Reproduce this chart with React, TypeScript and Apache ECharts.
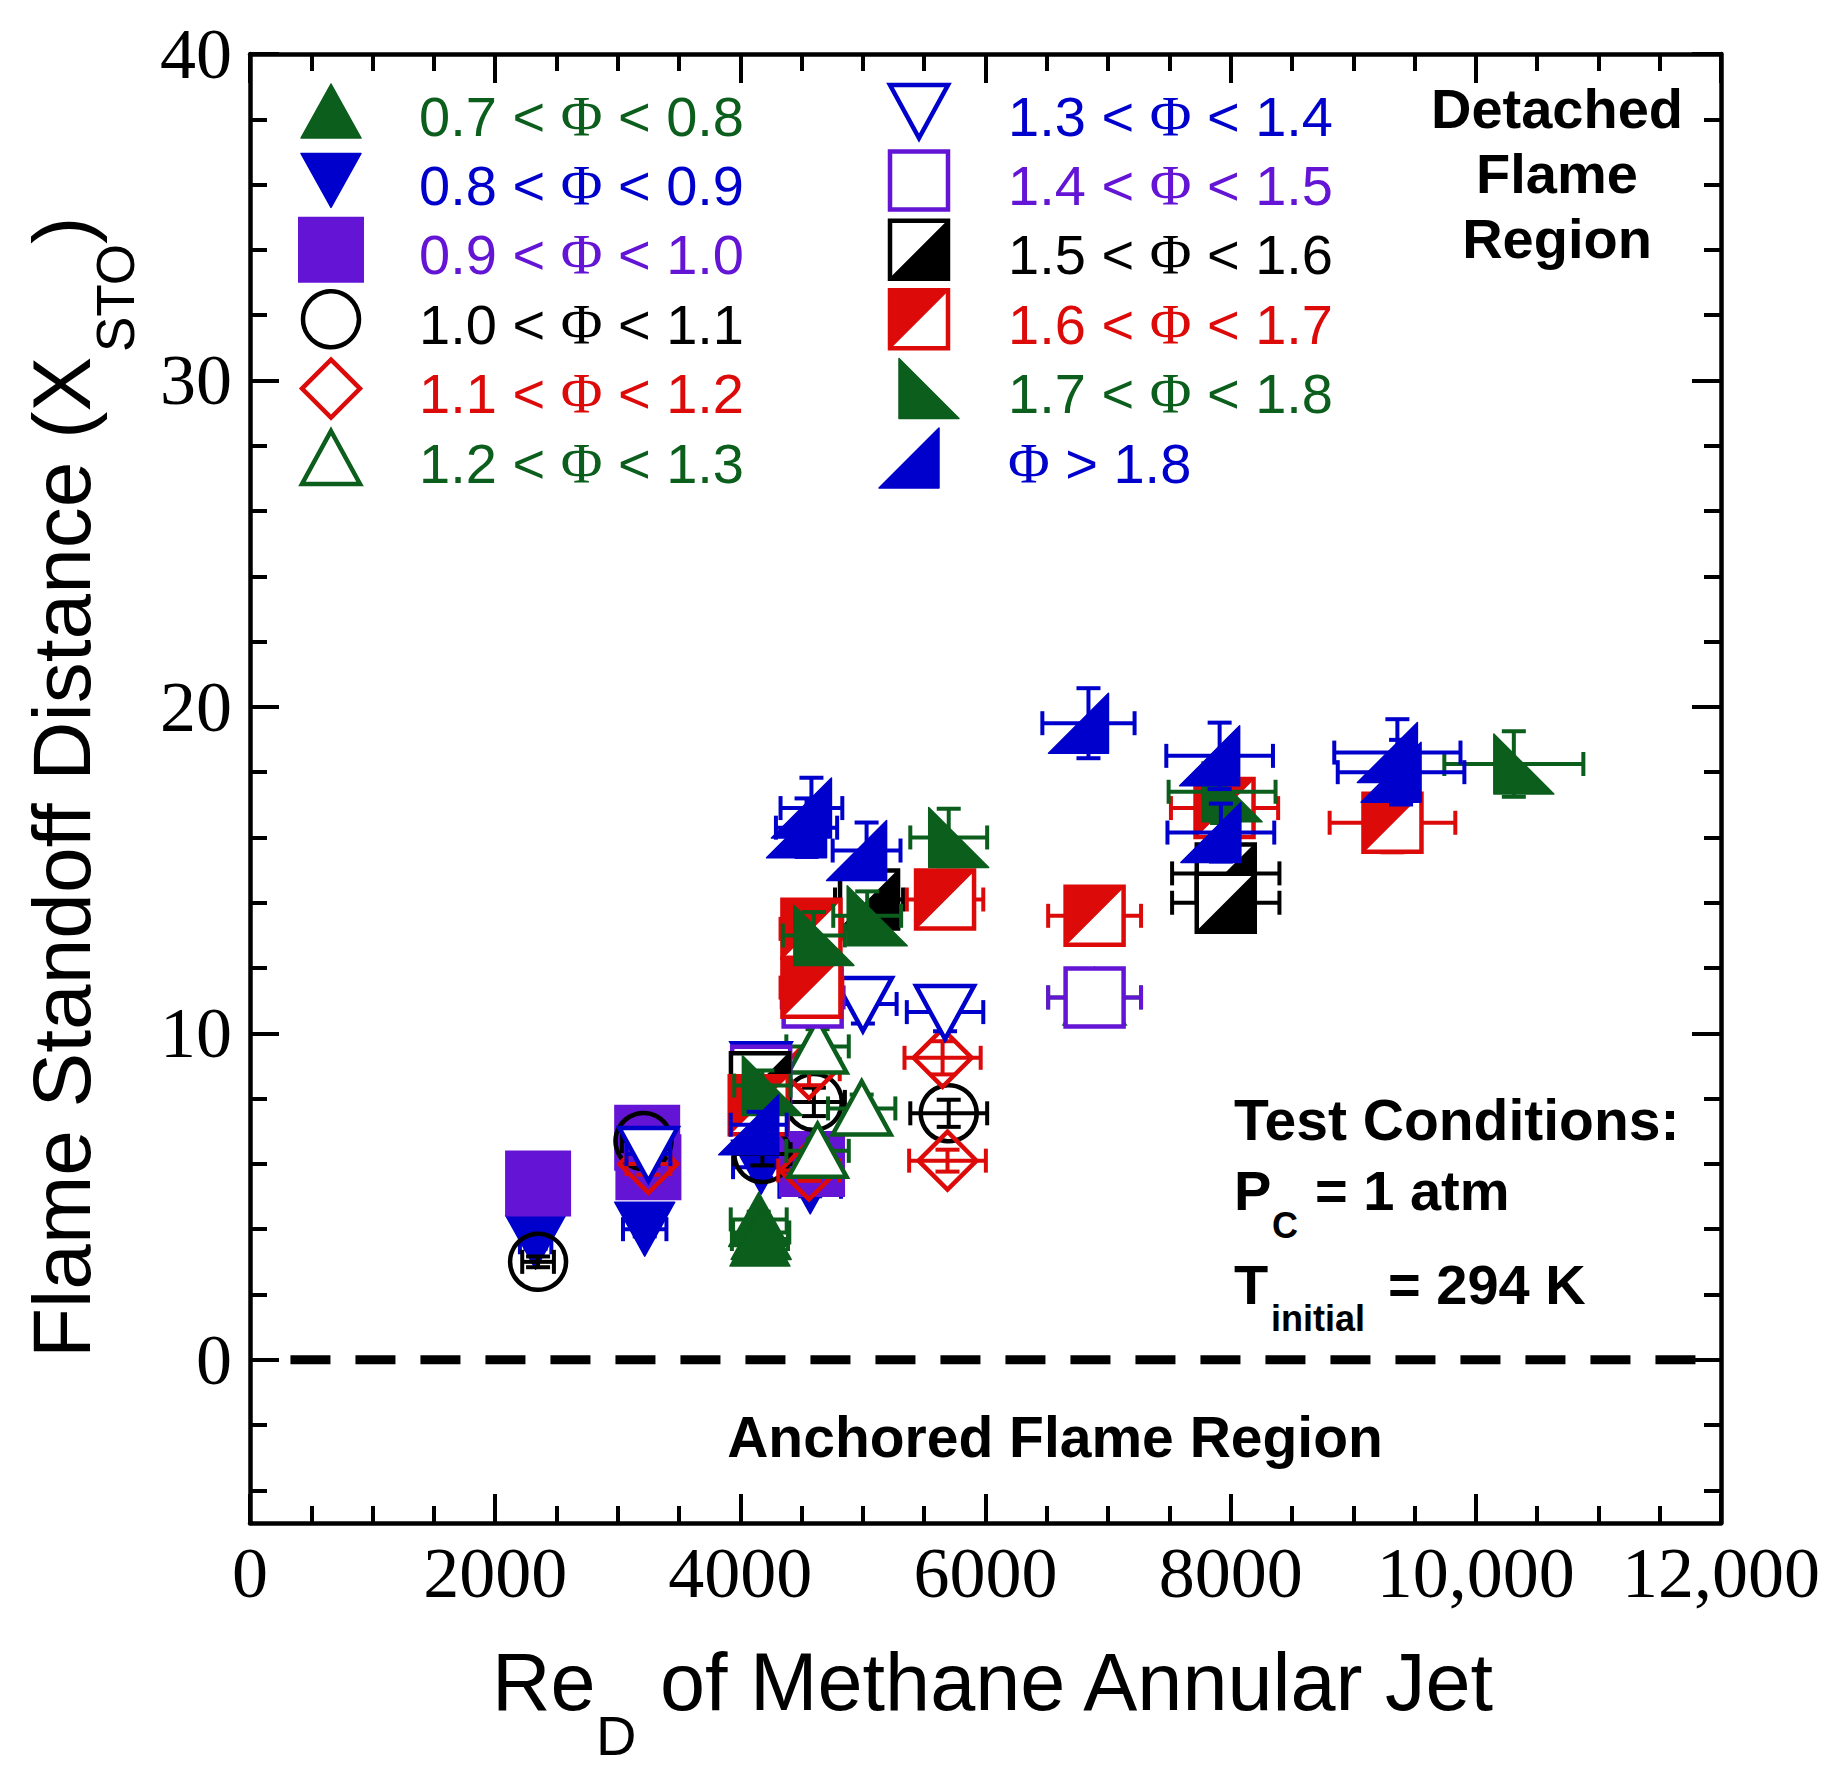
import React, { useEffect, useRef } from 'react';
import * as echarts from 'echarts';

// ---------- axis ticks ----------
const X_TICK_VALUES = [0, 2000, 4000, 6000, 8000, 10000, 12000];
const X_TICK_LABELS = ['0', '2000', '4000', '6000', '8000', '10,000', '12,000'];
const Y_MAJOR_TICKS = [0, 10, 20, 30, 40];
const Y_MINOR_TICKS = [-4, -2, 2, 4, 6, 8, 12, 14, 16, 18, 22, 24, 26, 28, 32, 34, 36, 38];

// ---------- legend labels ----------
const LEGEND_LABELS = [
  '0.7 < Φ < 0.8', '0.8 < Φ < 0.9', '0.9 < Φ < 1.0', '1.0 < Φ < 1.1', '1.1 < Φ < 1.2', '1.2 < Φ < 1.3',
  '1.3 < Φ < 1.4', '1.4 < Φ < 1.5', '1.5 < Φ < 1.6', '1.6 < Φ < 1.7', '1.7 < Φ < 1.8', 'Φ > 1.8',
];

// ---------- data: [Re_D, X_STO] ----------
const PHI_07_08 = [[4150, 4.3], [4170, 3.9], [4160, 3.7]];
const PHI_08_09 = [[2330, 3.6], [3220, 4.0], [4170, 5.9], [4570, 5.3]];
const PHI_09_10 = [[2350, 5.4], [3240, 6.8], [3250, 5.9], [4585, 6.0]];
const PHI_10_11 = [[2350, 3.0], [3210, 6.7], [4180, 6.3], [4600, 7.9], [5700, 7.55]];
const PHI_11_12 = [[3250, 6.0], [4560, 5.8], [4560, 8.9], [5650, 9.25], [5690, 6.1]];
const PHI_12_13 = [[4630, 9.6], [4990, 7.7], [4630, 6.4], [6890, 11.1]];
const PHI_13_14 = [[3250, 6.3], [4170, 8.9], [5000, 10.9], [5670, 10.65]];
const PHI_14_15 = [[4170, 8.7], [4590, 11.1], [6890, 11.1]];
const PHI_15_16 = [[4160, 8.5], [5050, 14.1], [7960, 14.9], [7960, 14.0]];
const PHI_16_17 = [[4150, 7.8], [4580, 13.2], [4580, 11.4], [5670, 14.1], [6890, 13.6], [7950, 16.9], [9320, 16.45]];
const PHI_17_18 = [[4180, 8.4], [4600, 13.0], [5035, 13.6], [5700, 16.0], [7930, 17.4], [10310, 18.25]];
const PHI_GT_18 = [[4150, 7.2], [4580, 16.9], [4540, 16.3], [5030, 15.6], [6840, 19.5], [7910, 18.5], [7920, 16.15], [9360, 18.6], [9390, 18.0]];

// relative measurement uncertainty shown by the error bars
const REL_ERR_X = 0.055;
const REL_ERR_Y = 0.055;

// dashed boundary line between detached and anchored regions
const BOUNDARY_LINE = [[330, 0], [11850, 0]];

// ---------- styles ----------
const GREEN = '#0B5E1C';
const BLUE = '#0000CC';
const PURPLE = '#6414D4';
const RED = '#DD0A0A';
const BLACK = '#000000';
const SANS = "'Liberation Sans', Arial, Helvetica, sans-serif";
const SERIF = "'Liberation Serif', 'Times New Roman', serif";

const GROUPS = [
  { data: PHI_07_08, color: GREEN, kind: 'triUp' },
  { data: PHI_08_09, color: BLUE, kind: 'triDown' },
  { data: PHI_09_10, color: PURPLE, kind: 'square' },
  { data: PHI_10_11, color: BLACK, kind: 'circleOpen' },
  { data: PHI_11_12, color: RED, kind: 'diamondOpen' },
  { data: PHI_12_13, color: GREEN, kind: 'triUpOpen' },
  { data: PHI_13_14, color: BLUE, kind: 'triDownOpen' },
  { data: PHI_14_15, color: PURPLE, kind: 'squareOpen' },
  { data: PHI_15_16, color: BLACK, kind: 'halfLR' },
  { data: PHI_16_17, color: RED, kind: 'halfUL' },
  { data: PHI_17_18, color: GREEN, kind: 'rtriL' },
  { data: PHI_GT_18, color: BLUE, kind: 'rtriR' },
];

function markerShapes(kind: string, color: string, cx: number, cy: number): any[] {
  const lw = 4.5;
  const filled = (pts: number[][]) => ({
    type: 'polygon', shape: { points: pts },
    style: { fill: color, stroke: color, lineWidth: 1.5, lineJoin: 'round' },
  });
  const open = (pts: number[][], fill: string) => ({
    type: 'polygon', shape: { points: pts },
    style: { fill, stroke: color, lineWidth: lw, lineJoin: 'miter' },
  });
  const frame = () => ({
    type: 'rect', shape: { x: cx - 29, y: cy - 29, width: 58, height: 58 },
    style: { fill: '#ffffff', stroke: color, lineWidth: lw },
  });
  switch (kind) {
    case 'triUp':
      return [filled([[cx, cy - 27], [cx + 30, cy + 27], [cx - 30, cy + 27]])];
    case 'triDown':
      return [filled([[cx - 30, cy - 27], [cx + 30, cy - 27], [cx, cy + 27]])];
    case 'square':
      return [{ type: 'rect', shape: { x: cx - 33, y: cy - 33, width: 66, height: 66 }, style: { fill: color } }];
    case 'circleOpen':
      return [{ type: 'circle', shape: { cx, cy, r: 28 }, style: { fill: 'none', stroke: color, lineWidth: lw } }];
    case 'diamondOpen':
      return [open([[cx, cy - 29], [cx + 29, cy], [cx, cy + 29], [cx - 29, cy]], 'none')];
    case 'triUpOpen':
      return [open([[cx, cy - 27], [cx + 29, cy + 26], [cx - 29, cy + 26]], '#ffffff')];
    case 'triDownOpen':
      return [open([[cx - 29, cy - 26], [cx + 29, cy - 26], [cx, cy + 27]], '#ffffff')];
    case 'squareOpen':
      return [frame()];
    case 'halfLR':
      return [frame(), filled([[cx + 29, cy - 29], [cx + 29, cy + 29], [cx - 29, cy + 29]])];
    case 'halfUL':
      return [frame(), filled([[cx - 29, cy - 29], [cx + 29, cy - 29], [cx - 29, cy + 29]])];
    case 'rtriL':
      return [filled([[cx - 20, cy - 30], [cx - 20, cy + 30], [cx + 40, cy + 30]])];
    case 'rtriR':
      return [filled([[cx + 20, cy - 30], [cx + 20, cy + 30], [cx - 40, cy + 30]])];
    default:
      return [];
  }
}

function makeRenderItem(kind: string, color: string) {
  return (params: any, api: any) => {
    const x = api.value(0);
    const y = api.value(1);
    const c = api.coord([x, y]);
    const cx = c[0];
    const cy = c[1];
    const xl = api.coord([x * (1 - REL_ERR_X), y])[0];
    const xr = api.coord([x * (1 + REL_ERR_X), y])[0];
    const yt = api.coord([x, y * (1 + REL_ERR_Y)])[1];
    const yb = api.coord([x, y * (1 - REL_ERR_Y)])[1];
    const ls = { stroke: color, lineWidth: 4 };
    const cap = 12;
    const ln = (x1: number, y1: number, x2: number, y2: number) => ({
      type: 'line', shape: { x1, y1, x2, y2 }, style: ls,
    });
    return {
      type: 'group',
      children: [
        ln(xl, cy, xr, cy),
        ln(xl, cy - cap, xl, cy + cap),
        ln(xr, cy - cap, xr, cy + cap),
        ln(cx, yt, cx, yb),
        ln(cx - cap, yt, cx + cap, yt),
        ln(cx - cap, yb, cx + cap, yb),
        ...markerShapes(kind, color, cx, cy),
      ],
    };
  };
}

function txt(text: string, x: number, y: number, size: number, opts: any = {}) {
  const align = opts.align || 'left';
  return {
    type: 'text',
    x, y,
    rotation: opts.rotation || 0,
    silent: true,
    style: {
      text,
      fill: opts.color || '#000',
      fontSize: size,
      fontFamily: opts.family || SANS,
      fontWeight: opts.weight || 'normal',
      align, textAlign: align,
      verticalAlign: 'middle', textVerticalAlign: 'middle',
    },
  };
}

function legendText(label: string, color: string, x: number, y: number) {
  const parts = label.split('Φ');
  let text = '';
  if (parts[0]) text += `{a|${parts[0]}}`;
  text += '{p|Φ}';
  if (parts[1]) text += `{a|${parts[1]}}`;
  return {
    type: 'text', x, y, silent: true,
    style: {
      text,
      fill: color,
      fontSize: 56,
      fontFamily: SANS,
      align: 'left', textAlign: 'left',
      verticalAlign: 'middle', textVerticalAlign: 'middle',
      rich: {
        a: { fontSize: 56, fontFamily: SANS, fill: color, color },
        p: { fontSize: 57, fontFamily: SERIF, fill: color, color },
      },
    },
  };
}

function buildGraphics() {
  const els: any[] = [];
  // legend
  const colMarkerX = [331, 919];
  const colTextX = [419, 1008];
  const rowY0 = 111;
  const rowStep = 69.4;
  GROUPS.forEach((g, i) => {
    const col = i < 6 ? 0 : 1;
    const row = i % 6;
    const cy = rowY0 + row * rowStep;
    els.push({ type: 'group', silent: true, children: markerShapes(g.kind, g.color, colMarkerX[col], cy) });
    els.push(legendText(LEGEND_LABELS[i], g.color, colTextX[col], cy + 5));
  });
  // region annotations
  els.push(txt('Detached', 1557, 108, 56, { align: 'center', weight: 'bold' }));
  els.push(txt('Flame', 1557, 173, 56, { align: 'center', weight: 'bold' }));
  els.push(txt('Region', 1557, 238, 56, { align: 'center', weight: 'bold' }));
  els.push(txt('Anchored Flame Region', 1055, 1437, 57, { align: 'center', weight: 'bold' }));
  // test conditions
  els.push(txt('Test Conditions:', 1234, 1120, 57, { weight: 'bold' }));
  els.push(txt('P', 1234, 1190, 56, { weight: 'bold' }));
  els.push(txt('C', 1272, 1225, 36, { weight: 'bold' }));
  els.push(txt('= 1 atm', 1315, 1190, 56, { weight: 'bold' }));
  els.push(txt('T', 1234, 1284, 56, { weight: 'bold' }));
  els.push(txt('initial', 1271, 1318, 36, { weight: 'bold' }));
  els.push(txt('= 294 K', 1388, 1284, 56, { weight: 'bold' }));
  // x axis title
  els.push(txt('Re', 492, 1682, 81));
  els.push(txt('D', 596, 1735, 56));
  els.push(txt('of Methane Annular Jet', 660, 1682, 81));
  // y axis title (rotated)
  els.push(txt('Flame Standoff Distance (X', 61, 1358, 82, { rotation: Math.PI / 2 }));
  els.push(txt('STO', 115, 352, 53, { rotation: Math.PI / 2 }));
  els.push(txt(')', 61, 244, 82, { rotation: Math.PI / 2 }));
  return els;
}

function buildOption(): any {
  const axisLine = { show: true, onZero: false, lineStyle: { color: '#000', width: 4.5 } };
  const tickStyle = { color: '#000', width: 4 };
  const xBase = {
    type: 'value', min: 0, max: 12000, interval: 2000,
    axisLine,
    axisTick: { show: true, inside: true, length: 29, lineStyle: tickStyle },
    minorTick: { show: true, splitNumber: 4, length: 17, lineStyle: tickStyle },
    splitLine: { show: false }, minorSplitLine: { show: false },
  };
  const yMajor = (position: string, showLabel: boolean) => ({
    type: 'value', min: -5, max: 40, position,
    axisLine,
    axisTick: { show: true, inside: true, length: 29, lineStyle: tickStyle, customValues: Y_MAJOR_TICKS },
    axisLabel: showLabel
      ? { show: true, customValues: Y_MAJOR_TICKS, margin: 18, fontFamily: SERIF, fontSize: 72, color: '#000' }
      : { show: false },
    splitLine: { show: false },
  });
  const yMinor = (position: string) => ({
    type: 'value', min: -5, max: 40, position,
    axisLine: { show: false, onZero: false },
    axisTick: { show: true, inside: true, length: 17, lineStyle: tickStyle, customValues: Y_MINOR_TICKS },
    axisLabel: { show: false },
    splitLine: { show: false },
  });

  const series: any[] = [
    {
      type: 'line', data: BOUNDARY_LINE, xAxisIndex: 0, yAxisIndex: 0,
      symbol: 'none', silent: true, z: 1,
      lineStyle: { color: '#000', width: 9, type: [40, 25] },
    },
  ];
  GROUPS.forEach((g, i) => {
    series.push({
      type: 'custom', name: LEGEND_LABELS[i], xAxisIndex: 0, yAxisIndex: 0,
      coordinateSystem: 'cartesian2d', data: g.data, silent: true, clip: false,
      encode: { x: 0, y: 1 },
      renderItem: makeRenderItem(g.kind, g.color),
      z: 2,
    });
  });

  return {
    animation: false,
    backgroundColor: '#ffffff',
    grid: { left: 250, top: 54, width: 1471, height: 1469, containLabel: false, outerBoundsMode: 'none' },
    xAxis: [
      {
        ...xBase, position: 'bottom',
        axisLabel: {
          show: true, margin: 14, fontFamily: SERIF, fontSize: 72, color: '#000',
          formatter: (v: number) => {
            const i = X_TICK_VALUES.indexOf(v);
            return i >= 0 ? X_TICK_LABELS[i] : '';
          },
        },
      },
      { ...xBase, position: 'top', axisLabel: { show: false } },
    ],
    yAxis: [yMajor('left', true), yMinor('left'), yMajor('right', false), yMinor('right')],
    series,
    graphic: buildGraphics(),
  };
}

export default function App() {
  const ref = useRef<HTMLDivElement>(null);
  useEffect(() => {
    document.body.style.margin = '0';
    const chart = echarts.init(ref.current as HTMLDivElement, null, { renderer: 'svg' });
    chart.setOption(buildOption());
    return () => chart.dispose();
  }, []);
  return <div ref={ref} style={{ width: 1836, height: 1775, background: '#fff' }} />;
}
